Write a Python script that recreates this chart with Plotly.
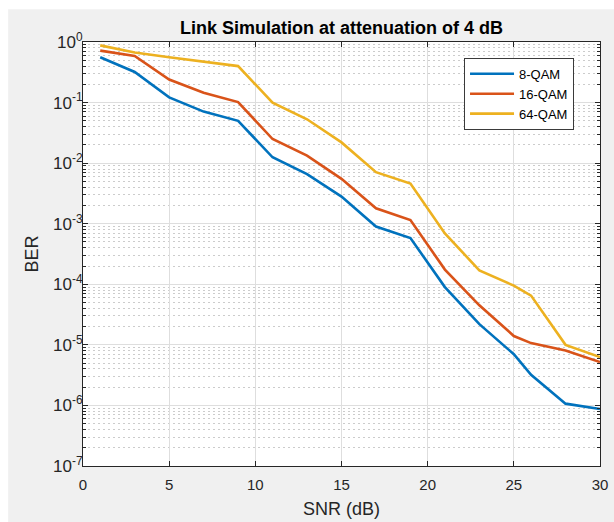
import plotly.graph_objects as go

snr = [1, 3, 5, 7, 9, 11, 13, 15, 17, 19, 21, 23, 25, 26, 28, 30]
ber_8qam = [0.56, 0.32, 0.122, 0.071, 0.050, 0.0125, 0.0066, 0.0028, 0.00090, 0.00058,
            9.0e-5, 2.2e-5, 7.0e-6, 3.2e-6, 1.07e-6, 8.7e-7]
ber_16qam = [0.72, 0.59, 0.24, 0.145, 0.102, 0.025, 0.0133, 0.0055, 0.0018, 0.00115,
             1.75e-4, 4.5e-5, 1.4e-5, 1.07e-5, 8.1e-6, 5.2e-6]
ber_64qam = [0.88, 0.67, 0.56, 0.48, 0.40, 0.10, 0.053, 0.022, 0.0071, 0.0046,
             6.9e-4, 1.7e-4, 9.5e-5, 6.5e-5, 1.0e-5, 6.3e-6]

series_names = ["8-QAM", "16-QAM", "64-QAM"]
series_colors = ["#0072BD", "#D95319", "#EDB120"]

x_ticks = [0, 5, 10, 15, 20, 25, 30]
y_exponents = [-7, -6, -5, -4, -3, -2, -1, 0]
y_tickvals = [10.0 ** e for e in y_exponents]
y_ticktext = ["10<sup>%d</sup>" % e for e in y_exponents]

FONT = "Liberation Sans, Arial, Helvetica, sans-serif"
AXC = "#262626"

fig = go.Figure()
for name, vals, col in zip(series_names, [ber_8qam, ber_16qam, ber_64qam], series_colors):
    fig.add_trace(go.Scatter(x=snr, y=vals, mode="lines", name=name,
                             line=dict(color=col, width=2.6)))

fig.update_layout(
    width=614, height=522,
    margin=dict(l=83, r=6, t=42, b=52),
    paper_bgcolor="#f0f0f0",
    plot_bgcolor="white",
    font=dict(family=FONT, size=15, color=AXC),
    title=dict(text="<b>Link Simulation at attenuation of 4 dB</b>",
               x=0.5, xref="paper", xanchor="center",
               y=1 - 28 / 522, yref="container", yanchor="middle",
               font=dict(size=18, color="#000000", family=FONT)),
    showlegend=True,
    legend=dict(x=0.737, y=0.9626, xanchor="left", yanchor="top",
                bgcolor="white", bordercolor="#3a3a3a", borderwidth=1,
                font=dict(size=13, color="#000000", family=FONT),
                itemwidth=44),
    shapes=[
        dict(type="rect", xref="paper", yref="paper", x0=-0.2, x1=1.2,
             y0=1.0771, y1=1.2, fillcolor="white", line=dict(width=0), layer="below"),
        dict(type="rect", xref="paper", yref="paper", x0=-0.2, x1=-0.1448,
             y0=-0.2, y1=1.2, fillcolor="white", line=dict(width=0), layer="below"),
    ],
)

fig.update_xaxes(
    range=[0, 30], tickvals=x_ticks,
    showline=True, linecolor=AXC, linewidth=1, mirror="ticks",
    ticks="inside", ticklen=5, tickcolor=AXC,
    showgrid=True, gridcolor="#dedede", gridwidth=1.2,
    zeroline=False,
    tickfont=dict(size=15, color=AXC),
    ticklabelstandoff=5, ticklabeloverflow="allow",
    title=dict(text="SNR (dB)", font=dict(size=18, color=AXC), standoff=10),
)
fig.update_yaxes(
    type="log", range=[-7, 0], tickvals=y_tickvals, ticktext=y_ticktext,
    showline=True, linecolor=AXC, linewidth=1, mirror="ticks",
    ticks="inside", ticklen=5, tickcolor=AXC,
    showgrid=True, gridcolor="#dedede", gridwidth=1.2,
    zeroline=False,
    tickfont=dict(size=17, color=AXC),
    ticklabelstandoff=-4,
    minor=dict(dtick="D1", showgrid=True, gridcolor="#cccccc", griddash="2px,3px",
               ticks="inside", ticklen=3, tickcolor=AXC),
    title=dict(text="BER", font=dict(size=18, color=AXC), standoff=9),
)

fig.write_html("out.html")
